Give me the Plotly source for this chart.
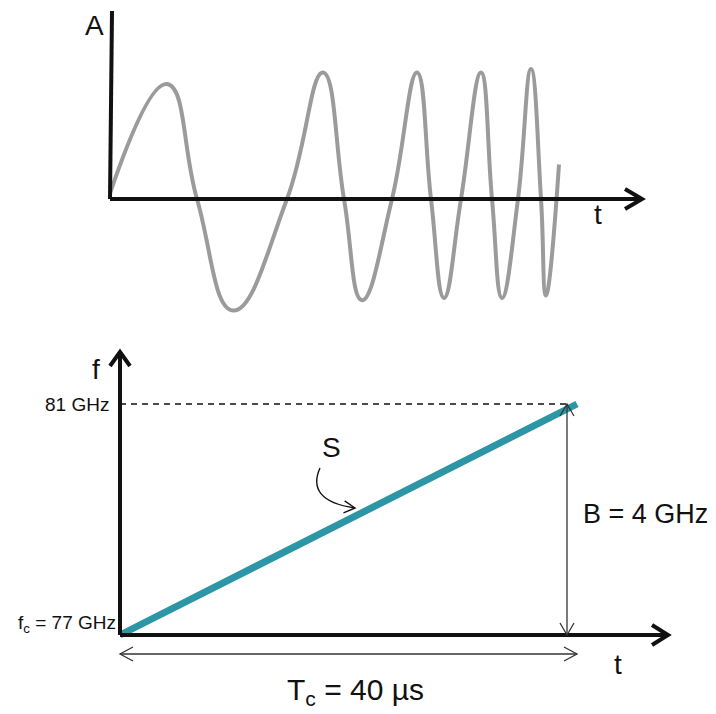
import plotly.graph_objects as go

W, H = 716, 714

# Chirp waveform (arbitrary time units / normalised amplitude): extrema and zero crossings
chirp_t = [0.0, 1.14, 1.74, 2.46, 3.54, 4.26, 4.68, 5.04, 5.64, 6.14, 6.42,
           6.68, 7.02, 7.42, 7.64, 7.84, 8.16, 8.42, 8.62, 8.72, 8.98]
chirp_amp = [0.05, 1.0, 0.0, -0.97, 0.0, 1.10, 0.0, -0.88, 0.0, 1.10, 0.0,
             -0.86, 0.0, 1.10, 0.0, -0.86, 0.0, 1.13, 0.0, -0.84, 0.30]

# Linear frequency ramp
f_start = 77      # GHz
f_stop = 81       # GHz
bandwidth = f_stop - f_start   # GHz
chirp_time = 40   # µs
ramp_t_us = [0, chirp_time]
ramp_f_ghz = [f_start, f_stop]

FONT = "Liberation Sans, Arial, sans-serif"
INK = "#111111"
TEAL = "#2C95A6"
GREY = "#9B9B9B"

# Pixel frames of the two panels: origin position and pixels per data unit
TOP = dict(y0=0, y1=330, ox=110, oy=199, sx=50.0, sy=115.0, base=0.0)
BOT = dict(y0=340, y1=714, ox=120, oy=635, sx=11.425, sy=57.75, base=f_start)


def xrange_of(fr):
    return [(0 - fr["ox"]) / fr["sx"], (W - fr["ox"]) / fr["sx"]]


def yrange_of(fr):
    return [fr["base"] + (fr["oy"] - fr["y1"]) / fr["sy"],
            fr["base"] + (fr["oy"] - fr["y0"]) / fr["sy"]]


def to_px(fr, x, y):
    return fr["ox"] + x * fr["sx"], fr["oy"] - (y - fr["base"]) * fr["sy"]


def to_data(fr, px, py):
    return (px - fr["ox"]) / fr["sx"], fr["base"] + (fr["oy"] - py) / fr["sy"]


def chevron(fr, x, y, dx, dy, length, half):
    """Open arrow head at data point (x, y) pointing along pixel direction (dx, dy)."""
    tx, ty = to_px(fr, x, y)
    n = (dx * dx + dy * dy) ** 0.5
    ux, uy = dx / n, dy / n
    bx, by = tx - ux * length, ty - uy * length
    a = to_data(fr, bx - uy * half, by + ux * half)
    b = to_data(fr, bx + uy * half, by - ux * half)
    return f"M {a[0]},{a[1]} L {x},{y} L {b[0]},{b[1]}"


fig = go.Figure()

# ---- top panel: chirp in time domain
fig.add_trace(go.Scatter(
    x=chirp_t, y=chirp_amp, mode="lines",
    line=dict(color=GREY, width=4, shape="spline", smoothing=1.3),
    xaxis="x", yaxis="y", hoverinfo="skip"))

# ---- bottom panel: frequency ramp
fig.add_trace(go.Scatter(
    x=ramp_t_us, y=ramp_f_ghz, mode="lines",
    line=dict(color=TEAL, width=7),
    xaxis="x2", yaxis="y2", hoverinfo="skip"))

shapes = []

# top axes
t_tip, _ = to_data(TOP, 642, 0)
_, a_top = to_data(TOP, 0, 11)
shapes.append(dict(type="line", xref="x", yref="y", x0=0, y0=0, x1=t_tip, y1=0,
                   line=dict(color=INK, width=4)))
shapes.append(dict(type="line", xref="x", yref="y", x0=0, y0=0, x1=0.04, y1=a_top,
                   line=dict(color=INK, width=4)))
shapes.append(dict(type="path", xref="x", yref="y",
                   path=chevron(TOP, t_tip, 0, 1, 0, 17, 10),
                   line=dict(color=INK, width=4)))

# bottom axes
bt_tip, _ = to_data(BOT, 668, 0)
_, f_tip = to_data(BOT, 0, 352)
shapes.append(dict(type="line", xref="x2", yref="y2", x0=0, y0=f_start, x1=bt_tip, y1=f_start,
                   line=dict(color=INK, width=4)))
shapes.append(dict(type="line", xref="x2", yref="y2", x0=0, y0=f_start, x1=0, y1=f_tip,
                   line=dict(color=INK, width=4)))
shapes.append(dict(type="path", xref="x2", yref="y2",
                   path=chevron(BOT, bt_tip, f_start, 1, 0, 16, 10),
                   line=dict(color=INK, width=4)))
shapes.append(dict(type="path", xref="x2", yref="y2",
                   path=chevron(BOT, 0, f_tip, 0, -1, 14, 10),
                   line=dict(color=INK, width=4)))

# bandwidth marker: dashed level line and vertical double arrow
b_x, _ = to_data(BOT, 567, 0)
shapes.append(dict(type="line", xref="x2", yref="y2", x0=0, y0=f_stop, x1=b_x, y1=f_stop,
                   line=dict(color=INK, width=1.6, dash="6px,5px"), layer="below"))
shapes.append(dict(type="line", xref="x2", yref="y2", x0=b_x, y0=f_start, x1=b_x, y1=f_stop,
                   line=dict(color="#333333", width=1.3)))
shapes.append(dict(type="path", xref="x2", yref="y2",
                   path=chevron(BOT, b_x, f_stop, 0, -1, 12, 7),
                   line=dict(color="#333333", width=1.3)))
shapes.append(dict(type="path", xref="x2", yref="y2",
                   path=chevron(BOT, b_x, f_start, 0, 1, 12, 7),
                   line=dict(color="#333333", width=1.3)))

# chirp-duration double arrow
_, tc_y = to_data(BOT, 0, 654)
shapes.append(dict(type="line", xref="x2", yref="y2", x0=0, y0=tc_y, x1=chirp_time, y1=tc_y,
                   line=dict(color="#333333", width=1.3)))
shapes.append(dict(type="path", xref="x2", yref="y2",
                   path=chevron(BOT, 0, tc_y, -1, 0, 13, 7),
                   line=dict(color="#333333", width=1.3)))
shapes.append(dict(type="path", xref="x2", yref="y2",
                   path=chevron(BOT, chirp_time, tc_y, 1, 0, 13, 7),
                   line=dict(color="#333333", width=1.3)))

# curved pointer from the slope label to the ramp
p0 = to_data(BOT, 320, 468)
c1 = to_data(BOT, 311, 488)
c2 = to_data(BOT, 320, 503)
p1 = to_data(BOT, 355, 508)
shapes.append(dict(type="path", xref="x2", yref="y2",
                   path=f"M {p0[0]},{p0[1]} C {c1[0]},{c1[1]} {c2[0]},{c2[1]} {p1[0]},{p1[1]}",
                   line=dict(color=INK, width=1.4)))
shapes.append(dict(type="path", xref="x2", yref="y2",
                   path=chevron(BOT, p1[0], p1[1], 1, 0.1, 11, 6),
                   line=dict(color=INK, width=1.4)))

annotations = []


def label(fr, xa, ya, px, py, text, size, xanchor="center"):
    x, y = to_data(fr, px, py)
    annotations.append(dict(xref=xa, yref=ya, x=x, y=y, text=text, showarrow=False,
                            xanchor=xanchor, yanchor="middle",
                            font=dict(family=FONT, size=size, color=INK)))


label(TOP, "x", "y", 94, 25, "A", 28)
label(TOP, "x", "y", 598, 214, "t", 28)
label(BOT, "x2", "y2", 96, 369, "f", 28)
label(BOT, "x2", "y2", 111, 404, f"{f_stop} GHz", 19, "right")
label(BOT, "x2", "y2", 118, 624, f"f<sub>c</sub> = {f_start} GHz", 19, "right")
label(BOT, "x2", "y2", 331, 447, "S", 28)
label(BOT, "x2", "y2", 581, 514, f"B = {bandwidth} GHz", 27, "left")
label(BOT, "x2", "y2", 618, 664, "t", 28)
label(BOT, "x2", "y2", 355, 691, f"T<sub>c</sub> = {chirp_time} µs", 30)

hidden = dict(visible=False, showgrid=False, zeroline=False, fixedrange=True)

fig.update_layout(
    width=W, height=H,
    margin=dict(l=0, r=0, t=0, b=0),
    paper_bgcolor="white", plot_bgcolor="white",
    showlegend=False,
    xaxis=dict(domain=[0, 1], range=xrange_of(TOP), anchor="y", **hidden),
    yaxis=dict(domain=[1 - TOP["y1"] / H, 1 - TOP["y0"] / H], range=yrange_of(TOP),
               anchor="x", **hidden),
    xaxis2=dict(domain=[0, 1], range=xrange_of(BOT), anchor="y2", **hidden),
    yaxis2=dict(domain=[1 - BOT["y1"] / H, 1 - BOT["y0"] / H], range=yrange_of(BOT),
                anchor="x2", **hidden),
    shapes=shapes,
    annotations=annotations,
)

fig.write_html("out.html")
